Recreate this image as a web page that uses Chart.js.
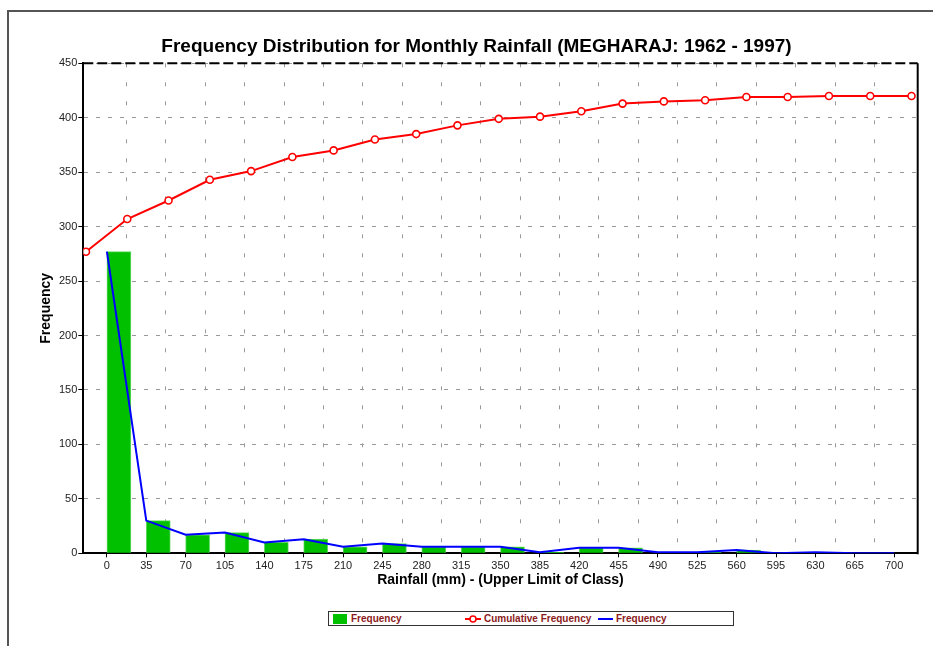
<!DOCTYPE html>
<html>
<head>
<meta charset="utf-8">
<title>Frequency Distribution for Monthly Rainfall</title>
<script src="https://cdn.jsdelivr.net/npm/chart.js@4.4.1/dist/chart.umd.min.js"></script>
<style>
  body { margin: 0; background: #fff; }
  #wrap { position: relative; width: 933px; height: 646px; overflow: hidden; background: #fff; }
  #frame { position: absolute; left: 7px; top: 10px; width: 1000px; height: 1000px;
           border-top: 2px solid #555; border-left: 2px solid #555; }
  #chart { position: absolute; left: 0; top: 0; }
  #legend { position: absolute; left: 328px; top: 611px; width: 404px; height: 13px;
            border: 1.5px solid #333; background: #fff;
            font: bold 10px "Liberation Sans", Arial, sans-serif; color: #8b1a1a; }
  #legend .item { position: absolute; top: 0; height: 13px; line-height: 14px; white-space: nowrap; }
  #legend svg { position: absolute; top: 0; }
</style>
</head>
<body>
<div id="wrap">
  <div id="frame"></div>
  <canvas id="chart" width="933" height="646"></canvas>
  <div id="legend"></div>
</div>
<script>
// class upper limits (mm)
const classLimits = ['0', '35', '70', '105', '140', '175', '210', '245', '280', '315', '350',
                     '385', '420', '455', '490', '525', '560', '595', '630', '665', '700'];
// number of months in each class
const frequency = [277, 30, 17, 19, 10, 13, 6, 9, 6, 6, 6, 1, 5, 5, 1, 1, 3, 0, 1, 0, 0];
// running total
const cumulative = [277, 307, 324, 343, 351, 364, 370, 380, 385, 393, 399,
                    401, 406, 413, 415, 416, 419, 419, 420, 420, 420];
const seriesNames = ['Frequency', 'Cumulative Frequency', 'Frequency'];

Chart.defaults.font.family = '"Liberation Sans", Arial, sans-serif';

const toPoints = arr => arr.map((v, i) => ({ x: i, y: v }));

// right + top edge of the plot box
const plotFrame = {
    id: 'plotFrame',
    beforeDatasetsDraw(chart) {
        const { ctx, chartArea: a } = chart;
        ctx.save();
        ctx.strokeStyle = '#000';
        ctx.lineWidth = 2;
        ctx.beginPath();
        ctx.moveTo(a.right, a.top);
        ctx.lineTo(a.right, a.bottom + 1);
        ctx.stroke();
        ctx.setLineDash([10, 4]);
        ctx.beginPath();
        ctx.moveTo(a.left, a.top);
        ctx.lineTo(a.right, a.top);
        ctx.stroke();
        ctx.restore();
    }
};

const isInt = c => c.tick && Number.isInteger(c.tick.value);

let ctx = document.getElementById('chart').getContext('2d');
new Chart(ctx, {
    type: 'bar',
    data: {
        datasets: [{
            type: 'line',
            label: seriesNames[1],
            data: toPoints(cumulative),
            xAxisID: 'xCum',
            order: 0,
            borderColor: '#ff0000',
            borderWidth: 2,
            pointRadius: 3.5,
            pointBorderWidth: 1.6,
            pointBackgroundColor: '#fff',
            pointBorderColor: '#ff0000'
        }, {
            type: 'line',
            label: seriesNames[2],
            data: toPoints(frequency),
            order: 1,
            borderColor: '#0000ff',
            borderWidth: 2,
            pointRadius: 0,
            tension: 0
        }, {
            type: 'bar',
            label: seriesNames[0],
            data: toPoints(frequency),
            order: 2,
            backgroundColor: '#00c000',
            borderColor: '#5fd85f',
            borderWidth: 1,
            barThickness: 24
        }]
    },
    options: {
        responsive: false,
        animation: false,
        devicePixelRatio: 1,
        layout: { padding: { left: 35.3, right: 15.3, top: 0, bottom: 52.7 } },
        plugins: {
            legend: { display: false },
            tooltip: { enabled: false },
            title: {
                display: true,
                text: 'Frequency Distribution for Monthly Rainfall (MEGHARAJ: 1962 - 1997)',
                color: '#000',
                font: { size: 19, weight: 'bold' },
                padding: { top: 35.6, bottom: 4.9 }
            }
        },
        scales: {
            x: {
                type: 'linear',
                position: 'bottom',
                min: -0.6,
                max: 20.6,
                offset: false,
                afterBuildTicks: scale => {
                    let t = [];
                    classLimits.forEach((lbl, i) => {
                        t.push({ value: i });
                        if (i < classLimits.length - 1) t.push({ value: i + 0.5 });
                    });
                    scale.ticks = t;
                },
                ticks: {
                    autoSkip: false,
                    maxRotation: 0,
                    padding: 2,
                    color: '#222',
                    font: { size: 11 },
                    callback: v => Number.isInteger(v) ? classLimits[v] : ''
                },
                grid: {
                    offset: false,
                    lineWidth: 1,
                    color: c => isInt(c) ? 'rgba(0,0,0,0)' : '#999',
                    tickColor: c => isInt(c) ? '#000' : 'rgba(0,0,0,0)',
                    tickLength: 4
                },
                border: { color: '#000', width: 2, dash: [4, 15] },
                title: {
                    display: true,
                    text: 'Rainfall (mm) - (Upper Limit of Class)',
                    color: '#000',
                    font: { size: 14, weight: 'bold' },
                    padding: { top: 0, bottom: 5 }
                },
                afterFit: scale => { scale.height = 40; }
            },
            // second x scale for the cumulative curve, laid out but drawn empty
            xCum: {
                type: 'linear',
                position: 'bottom',
                min: -0.065,
                max: 20.15,
                offset: false,
                ticks: { display: false },
                grid: { display: false, drawTicks: false },
                border: { display: false },
                afterFit: scale => { scale.height = 0; }
            },
            y: {
                min: 0,
                max: 450,
                ticks: { stepSize: 50, padding: 1, color: '#222', font: { size: 11 } },
                grid: { color: '#999', lineWidth: 1, tickColor: '#000', tickLength: 5 },
                border: { color: '#000', width: 2, dash: [4, 8] },
                title: {
                    display: true,
                    text: 'Frequency',
                    color: '#000',
                    font: { size: 14, weight: 'bold' },
                    padding: { top: 2.3, bottom: 0 }
                },
                afterFit: scale => { scale.width = 48; }
            }
        }
    },
    plugins: [plotFrame]
});

// legend box under the chart
const legend = document.getElementById('legend');
const symbols = [
    '<svg width="14" height="13" style="left:4px"><rect x="0" y="2" width="14" height="10" fill="#00c000"/></svg>',
    '<svg width="16" height="13" style="left:136px"><line x1="0" y1="7" x2="16" y2="7" stroke="#ff0000" stroke-width="2"/><circle cx="8" cy="7" r="3" fill="#fff" stroke="#ff0000" stroke-width="1.6"/></svg>',
    '<svg width="15" height="13" style="left:269px"><line x1="0" y1="7" x2="15" y2="7" stroke="#0000ff" stroke-width="2"/></svg>'
];
const textLeft = [22, 155, 287];
seriesNames.forEach((name, i) => {
    legend.insertAdjacentHTML('beforeend', symbols[i]);
    let span = document.createElement('span');
    span.className = 'item';
    span.style.left = textLeft[i] + 'px';
    span.textContent = name;
    legend.appendChild(span);
});
</script>
</body>
</html>
